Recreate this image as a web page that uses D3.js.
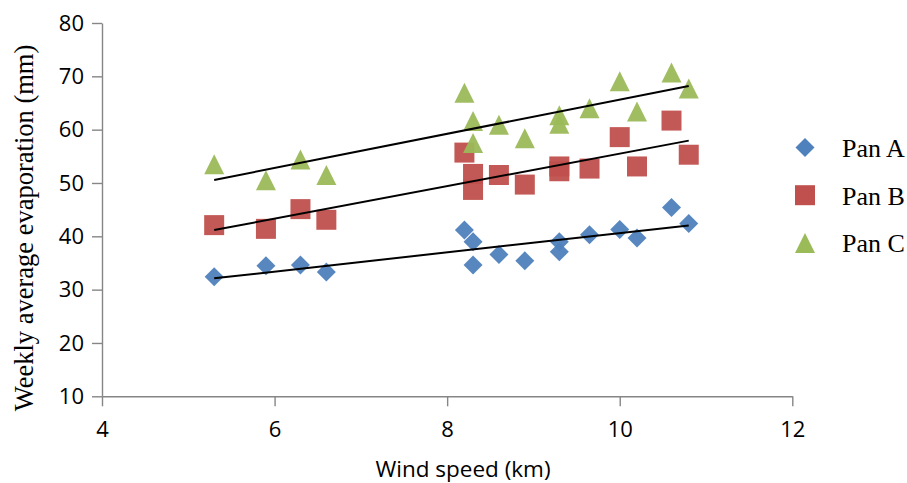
<!DOCTYPE html>
<html>
<head>
<meta charset="utf-8">
<script src="https://cdn.jsdelivr.net/npm/d3@7"></script>
<style>
  body { margin: 0; background: #fff; }
  svg { display: block; }
</style>
</head>
<body>
<script>
var width  = 907
var height = 483
var margin = { top: 23, bottom: 87, left: 102, right: 114 }

// wind speed (km) for each weekly reading
var windSpeed = [5.3, 5.9, 6.3, 6.6, 8.2, 8.3, 8.3, 8.6, 8.9, 9.3, 9.3, 9.65, 10.0, 10.2, 10.6, 10.8]
// weekly average evaporation (mm)
var panA = [32.4, 34.5, 34.6, 33.3, 41.2, 39.0, 34.6, 36.6, 35.4, 39.0, 37.1, 40.3, 41.3, 39.7, 45.4, 42.4]
var panB = [42.1, 41.4, 45.1, 43.1, 55.7, 51.7, 48.7, 51.5, 49.7, 53.1, 52.2, 52.7, 58.6, 53.1, 61.7, 55.3]
var panC = [53.5, 50.5, 54.4, 51.5, 66.9, 61.6, 57.5, 60.9, 58.4, 62.7, 61.1, 64.0, 69.1, 63.4, 70.7, 67.7]

var seriesNames = ['Pan A', 'Pan B', 'Pan C']
var xTicks = [4, 6, 8, 10, 12]
var yTicks = [10, 20, 30, 40, 50, 60, 70, 80]

var colors = ['#4F81BD', '#C0504D', '#9BBB59']

// excel-ish markers
var diamond = { draw: (ctx, size) => {
  var r = Math.sqrt(size) / 2
  ctx.moveTo(0, -r); ctx.lineTo(r, 0); ctx.lineTo(0, r); ctx.lineTo(-r, 0); ctx.closePath()
}}
var square = { draw: (ctx, size) => {
  var r = Math.sqrt(size) / 2
  ctx.rect(-r, -r, 2 * r, 2 * r)
}}
var triangle = { draw: (ctx, size) => {
  var r = Math.sqrt(size) / 2
  ctx.moveTo(0, -r); ctx.lineTo(r, r); ctx.lineTo(-r, r); ctx.closePath()
}}
var shapes = [diamond, square, triangle]
var sizes  = [19 * 19, 20 * 20, 20 * 20]

var series = [panA, panB, panC].map((vals, i) => ({
  name: seriesNames[i],
  color: colors[i],
  shape: shapes[i],
  size: sizes[i],
  points: vals.map((v, j) => ({ x: windSpeed[j], y: v }))
}))

var svg = d3.select('body')
  .append('svg')
  .attr('width', width)
  .attr('height', height)

var xScale = d3.scaleLinear()
  .domain([4, 12])
  .range([margin.left, width - margin.right - 0.7])

var yScale = d3.scaleLinear()
  .domain([10, 80])
  .range([height - margin.bottom + 0.3, margin.top])

var xAxis = d3.axisBottom(xScale)
  .tickValues(xTicks)
  .tickSize(10)
  .tickSizeOuter(0)
  .tickPadding(15)

var yAxis = d3.axisLeft(yScale)
  .tickValues(yTicks)
  .tickSize(10)
  .tickSizeOuter(0)
  .tickPadding(8)

var gx = svg.append('g')
  .attr('transform', 'translate(' + [0, yScale(10)] + ')')
  .call(xAxis)

var gy = svg.append('g')
  .attr('transform', 'translate(' + [xScale(4), 0] + ')')
  .call(yAxis)

;[gx, gy].forEach(g => {
  g.selectAll('path, line').attr('stroke', '#868686').attr('stroke-width', 1.4)
  g.selectAll('text')
    .attr('fill', '#000')
    .style('font-family', '"Open Sans", sans-serif')
    .style('font-size', '22px')
})

// least squares trend line over the observed wind range
function fit(points) {
  var mx = d3.mean(points, d => d.x)
  var my = d3.mean(points, d => d.y)
  var sxy = d3.sum(points, d => (d.x - mx) * (d.y - my))
  var sxx = d3.sum(points, d => (d.x - mx) * (d.x - mx))
  var b = sxy / sxx
  var a = my - b * mx
  var ext = d3.extent(points, d => d.x)
  return ext.map(x => ({ x: x, y: a + b * x }))
}

var line = d3.line()
  .x(d => xScale(d.x))
  .y(d => yScale(d.y))

var groups = svg.selectAll('g.series')
  .data(series)
  .enter()
  .append('g')
  .attr('class', 'series')

groups.selectAll('path.marker')
  .data(d => d.points.map(p => ({ p: p, s: d })))
  .enter()
  .append('path')
  .attr('class', 'marker')
  .attr('d', d => d3.symbol(d.s.shape, d.s.size)())
  .attr('transform', d => 'translate(' + [xScale(d.p.x), yScale(d.p.y)] + ')')
  .attr('fill', d => d.s.color)
  .attr('fill-opacity', 0.95)

groups.append('path')
  .attr('d', d => line(fit(d.points)))
  .attr('fill', 'none')
  .attr('stroke', '#000')
  .attr('stroke-width', 2)

// legend
var legend = svg.selectAll('g.legend')
  .data(series)
  .enter()
  .append('g')
  .attr('class', 'legend')
  .attr('transform', (d, i) => 'translate(' + [805, 147.5 + i * 47.7] + ')')

legend.append('path')
  .attr('d', d => d3.symbol(d.shape, d.size)())
  .attr('fill', d => d.color)

legend.append('text')
  .attr('x', 37)
  .attr('y', 9.3)
  .text(d => d.name)
  .style('font-family', '"Liberation Serif", "Times New Roman", serif')
  .style('font-size', '26px')

// axis titles
svg.append('text')
  .attr('x', 463)
  .attr('y', 477)
  .attr('text-anchor', 'middle')
  .text('Wind speed (km)')
  .style('font-family', '"Open Sans", sans-serif')
  .style('font-size', '22.5px')

svg.append('text')
  .attr('transform', 'translate(' + [33, 228] + ') rotate(-90)')
  .attr('text-anchor', 'middle')
  .text('Weekly average evaporation (mm)')
  .style('font-family', '"Liberation Serif", "Times New Roman", serif')
  .style('font-size', '26.5px')
</script>
</body>
</html>
